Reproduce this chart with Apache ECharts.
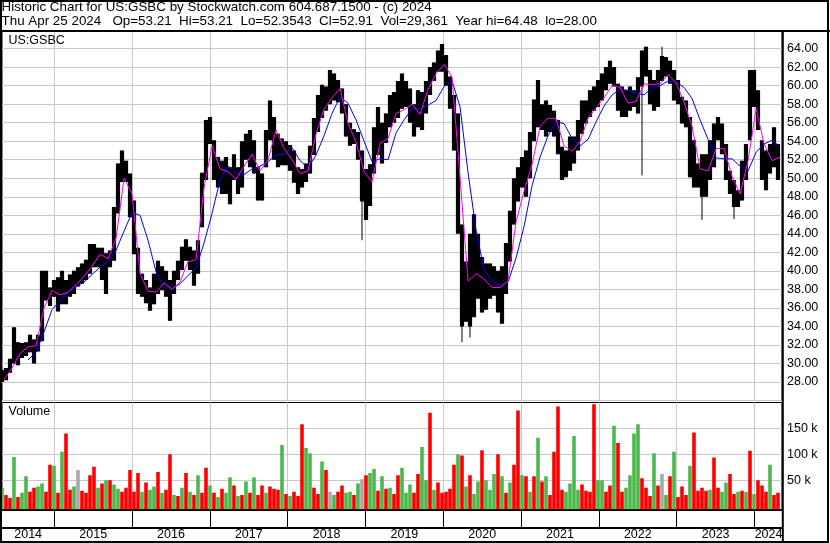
<!DOCTYPE html>
<html><head><meta charset="utf-8">
<script src="https://cdn.jsdelivr.net/npm/echarts@6/dist/echarts.min.js"></script>
<style>html,body{margin:0;padding:0;background:#fff}#c{width:830px;height:543px}</style>
</head><body><div id="c"></div><script>
// ---------- texts ----------
const titleLine1 = 'Historic Chart for US:GSBC by Stockwatch.com 604.687.1500 - (c) 2024';
const titleLine2 = 'Thu Apr 25 2024   Op=53.21  Hi=53.21  Lo=52.3543  Cl=52.91  Vol=29,361  Year hi=64.48  lo=28.00';
const symbolLabel = 'US:GSBC';
const volumeLabel = 'Volume';

// ---------- time sampling (decimal years) ----------
const axisStart = 2014.328, axisEnd = 2024.353;
const firstBin = 2014.328, binStep = 0.05141;   // one price/volume sample ~ every 19 days
const firstMA = 2014.354, maStep = 0.10283;     // moving averages sampled every ~38 days
const yearBounds = [2015, 2016, 2017, 2018, 2019, 2020, 2021, 2022, 2023, 2024];
const yearLabelAt = [2014.664, 2015.5, 2016.5, 2017.5, 2018.5, 2019.5, 2020.5, 2021.5, 2022.5, 2023.5, 2024.18];
const volumeTicks = [50, 100, 150];

// ---------- price ranges per sample ----------
const hi = [
29.3,29.5,30.5,33.9,32.3,32.2,32.3,33.1,32.6,33.1,
40.0,40.0,38.2,39.0,39.3,40.0,39.0,39.6,40.0,40.4,
40.8,41.2,42.9,42.9,42.5,42.5,41.9,42.2,46.9,51.6,
53.0,51.9,50.5,47.6,42.5,39.7,39.0,38.2,39.7,41.1,
40.5,40.0,39.0,40.0,41.1,42.6,43.4,42.6,42.2,43.3,
50.6,56.3,56.6,54.1,52.3,51.9,52.3,51.2,52.6,51.2,
54.0,54.8,55.2,54.1,51.2,50.5,55.2,58.4,56.6,54.8,
54.3,54.0,53.6,53.0,51.2,51.0,51.6,53.5,56.5,59.0,
60.1,59.9,61.7,61.3,60.6,59.7,58.0,56.0,55.3,55.0,
53.0,51.0,51.5,55.5,57.7,56.0,57.0,59.0,59.3,60.5,
61.3,60.5,59.7,58.0,59.5,59.3,60.5,62.0,62.5,63.8,
64.5,63.3,61.0,59.0,57.0,45.0,41.0,44.0,46.1,44.0,
41.5,40.8,40.8,40.5,40.0,40.5,43.0,46.5,50.0,51.2,
52.3,53.0,55.0,58.5,60.6,58.0,58.4,57.9,57.3,56.3,
53.4,53.0,54.5,54.5,56.3,58.4,58.4,59.5,59.9,60.6,
61.3,62.0,62.7,62.0,60.2,59.9,59.5,59.9,59.5,60.9,
63.8,64.2,61.7,60.6,61.7,63.2,63.1,62.7,61.7,60.6,
58.8,58.4,56.6,54.1,51.6,52.6,52.6,54.1,55.9,56.6,
55.9,53.7,50.8,49.8,48.7,51.9,53.7,61.7,61.7,59.5,
54.1,53.0,53.7,55.5,53.7];
const lo = [
28.0,28.2,29.0,30.0,29.8,30.6,30.8,31.2,30.0,31.3,
32.4,36.8,36.2,37.2,35.6,36.4,36.4,37.2,37.5,38.3,
38.6,39.0,39.7,40.4,40.4,39.0,37.5,40.4,41.1,46.2,
49.6,49.6,45.8,41.8,37.5,37.2,36.5,35.7,36.4,37.5,
37.9,37.2,34.6,37.5,39.0,40.1,41.1,40.1,38.4,39.7,
44.7,49.8,53.7,49.8,49.0,48.3,48.3,47.2,49.8,48.3,
49.0,52.0,51.2,50.5,47.6,47.6,51.2,54.1,52.0,51.2,
51.4,51.4,50.8,49.5,48.3,49.0,49.6,50.5,52.5,55.0,
56.5,57.3,58.0,58.4,58.2,57.0,54.5,53.5,53.7,52.0,
47.5,45.5,47.0,50.5,52.5,51.6,53.8,55.5,56.0,56.5,
57.5,57.7,56.0,54.5,55.5,55.2,57.0,59.0,60.5,61.5,
61.5,60.0,57.5,53.0,44.0,34.0,34.5,34.0,35.0,37.0,
35.5,35.8,37.0,37.3,35.5,34.3,37.5,41.0,45.0,47.5,
49.0,48.0,50.0,54.0,55.5,55.2,54.5,55.0,54.5,52.6,
49.8,50.1,50.8,51.6,53.0,54.8,55.9,56.6,57.3,57.7,
58.4,59.5,60.2,59.9,57.3,56.6,56.6,57.3,57.7,57.0,
59.9,61.0,58.0,57.3,57.7,60.5,61.0,60.2,58.4,58.0,
55.9,55.5,50.1,49.0,49.0,48.0,48.0,49.8,51.2,54.1,
52.6,49.8,48.3,46.9,46.9,47.6,49.8,54.1,57.7,55.2,
49.8,48.7,50.5,51.2,49.8];
// single-day extreme prints (sample index -> price)
const wickLo = {90: 43.3, 115: 32.3, 117: 32.8, 160: 50.3, 175: 45.5, 183: 45.6};
const wickHi = {165: 64.2};

// ---------- moving averages ----------
const maFast = [
28.3,29.5,31.1,31.8,31.9,36.0,37.9,37.4,37.7,38.5,
39.4,40.5,41.8,41.3,43.5,50.0,48.3,39.7,37.8,37.7,
38.7,38.0,38.8,41.0,41.2,49.0,53.5,51.0,50.7,49.9,
51.3,52.6,50.8,52.0,55.2,53.2,52.0,50.5,50.8,54.8,
57.5,58.7,59.7,55.9,53.9,50.7,49.6,53.8,54.3,57.0,
57.4,58.0,56.9,59.6,61.3,62.3,60.9,50.0,38.9,39.7,
39.1,38.2,38.2,38.9,45.3,48.6,51.5,55.6,56.5,56.4,
53.5,52.9,54.0,56.5,57.6,58.7,60.0,59.8,58.1,58.3,
60.2,60.1,60.2,61.2,60.3,58.2,55.6,51.0,50.8,53.2,
53.2,50.2,48.3,51.9,57.5,53.7,51.9,52.3];
const maSlow = [
null,null,null,30.4,31.2,33.4,35.8,36.8,37.7,38.3,
38.8,39.6,40.4,41.0,42.2,44.3,46.3,46.0,43.3,39.9,
38.2,38.1,38.6,39.5,40.3,43.0,46.2,49.8,51.3,50.6,
50.4,51.0,51.3,51.8,52.5,52.6,53.3,51.9,51.1,52.5,
54.6,57.0,58.8,58.1,56.3,54.0,51.8,52.1,52.0,54.9,
56.3,57.5,57.5,57.9,58.4,59.9,60.5,57.7,50.6,44.4,
40.1,38.9,38.5,38.8,41.4,44.8,49.2,52.3,54.6,56.1,
55.9,54.3,53.5,54.2,56.1,57.8,59.0,59.6,59.5,59.2,
59.0,59.8,60.0,60.5,60.4,59.8,58.6,56.3,54.2,52.2,
52.1,52.1,51.3,50.8,52.8,53.7,54.1,53.4];

// ---------- volume (thousands) and direction g=up r=down n=unchanged ----------
const volK = [
36,22,16,95,18,26,58,28,36,38,
44,28,80,78,26,105,140,32,38,70,
30,26,60,76,36,44,50,50,42,34,
28,36,70,28,64,28,46,32,38,66,
26,32,100,22,20,36,64,28,22,60,
26,74,40,26,18,34,26,56,40,20,
22,48,26,56,22,40,26,38,34,32,
118,24,20,28,20,158,112,102,36,24,
86,70,28,22,28,40,26,28,22,44,
52,60,64,72,30,58,34,36,24,60,
74,26,42,26,62,114,50,180,32,46,
26,28,34,80,100,98,38,60,24,48,
108,50,32,62,100,58,26,46,80,184,
60,58,28,58,132,48,58,22,105,192,
32,28,44,135,32,42,30,28,196,50,
50,28,40,155,122,28,36,60,140,158,
54,36,20,102,40,62,22,58,105,18,
38,22,78,142,30,36,30,32,94,36,
28,46,62,24,28,30,28,107,24,50,
40,28,80,22,26];
const volDir =
'grrgrggrrg'+'grrgrgrrgn'+'rrrrgrgrgg'+'rrrrrgrggr'+'grrgrgrgrg'+
'rrgrgrggrg'+'rgrgrrgrrr'+'grgrrrggrr'+'grngrrggrg'+'nrggrgrgrr'+
'gggrrggrgr'+'rrrrgrgrgg'+'rgggrgrgrr'+'grgrgrgrrr'+'rggggrrrrg'+
'grrgrrgggg'+'rrrgrngrgr'+'rrgrrrrgrr'+'ggrrgrgrgr'+'rrgrr';

// ---------- build ----------
const FONT = '"Liberation Sans", Arial, sans-serif';
const GRID_C = '#c8c8c8';
const dirCode = {g: 0, r: 1, n: 2};
const dirColor = ['#4cb84c', '#ff0000', '#a8a8a8'];

const priceData = hi.map((h, j) => [
  firstBin + j * binStep, lo[j], h,
  wickLo[j] !== undefined ? wickLo[j] : lo[j],
  wickHi[j] !== undefined ? wickHi[j] : h]);
const fastData = maFast.map((v, k) => [firstMA + k * maStep, v]);
const slowData = maSlow.map((v, k) => [firstMA + k * maStep, v]);
const volData = volK.map((v, j) => [firstBin + j * binStep, v, dirCode[volDir[j]]]);

const txt = {fontFamily: FONT, fontSize: 13, color: '#000', fontWeight: 'normal'};

const chart = echarts.init(document.getElementById('c'), null, {renderer: 'canvas'});
chart.setOption({
  animation: false,
  backgroundColor: '#fff',
  title: [
    {text: titleLine1, left: 1.5, top: 0, padding: 0, textStyle: Object.assign({}, txt, {fontSize: 13.4, lineHeight: 14})},
    {text: titleLine2, left: 1.5, top: 14.5, padding: 0, textStyle: Object.assign({}, txt, {fontSize: 13.4, lineHeight: 14})},
    {text: symbolLabel, left: 8.5, top: 33.5, padding: 0, textStyle: Object.assign({}, txt, {fontSize: 12.5, lineHeight: 14})},
    {text: volumeLabel, left: 8.5, top: 405, padding: 0, textStyle: Object.assign({}, txt, {fontSize: 12.5, lineHeight: 14})}
  ],
  grid: [
    {left: 2, width: 780, top: 31, height: 369.5, show: true, borderColor: '#000', borderWidth: 1, containLabel: false},
    {left: 2, width: 780, top: 402.5, height: 107, show: true, borderColor: '#000', borderWidth: 1, containLabel: false}
  ],
  xAxis: [
    {gridIndex: 0, type: 'value', min: axisStart, max: axisEnd,
     axisLine: {show: false}, axisTick: {show: false, customValues: yearBounds},
     axisLabel: {show: false}, splitLine: {show: true, lineStyle: {color: GRID_C, width: 1}}},
    {gridIndex: 1, type: 'value', min: axisStart, max: axisEnd,
     axisLine: {show: true, onZero: false, lineStyle: {color: '#000', width: 2}},
     axisTick: {show: true, customValues: yearBounds, length: 18, inside: false, lineStyle: {color: '#000', width: 1}},
     axisLabel: {show: true, customValues: yearLabelAt, margin: 19, formatter: v => String(Math.floor(v)),
                 fontFamily: FONT, fontSize: 12.5, color: '#000'},
     splitLine: {show: true, lineStyle: {color: GRID_C, width: 1}}},
    {gridIndex: 1, type: 'value', min: axisStart, max: axisEnd, offset: 18, position: 'bottom',
     axisLine: {show: true, onZero: false, lineStyle: {color: '#000', width: 2}},
     axisTick: {show: false}, axisLabel: {show: false}, splitLine: {show: false}}
  ],
  yAxis: [
    {gridIndex: 0, type: 'value', position: 'right', min: 26, max: 65.9, interval: 2,
     axisLine: {show: false}, axisTick: {show: false},
     axisLabel: {margin: 5, showMinLabel: false, showMaxLabel: false, formatter: v => v.toFixed(2),
                 fontFamily: FONT, fontSize: 12.5, color: '#000'},
     splitLine: {show: true, lineStyle: {color: GRID_C, width: 1}}},
    {gridIndex: 1, type: 'value', position: 'right', min: -6, max: 199.6,
     axisLine: {show: false}, axisTick: {show: false, customValues: volumeTicks},
     axisLabel: {margin: 5, customValues: volumeTicks, formatter: v => v + ' k',
                 fontFamily: FONT, fontSize: 12.5, color: '#000'},
     splitLine: {show: true, lineStyle: {color: GRID_C, width: 1}}}
  ],
  series: [
    {type: 'custom', name: 'price', xAxisIndex: 0, yAxisIndex: 0, data: priceData, clip: true,
     encode: {x: 0, y: [1, 2, 3, 4]}, z: 2,
     renderItem: (params, api) => {
       const t = api.value(0);
       const top = api.coord([t, api.value(2)]);
       const bot = api.coord([t, api.value(1)]);
       const wt = api.coord([t, api.value(4)]);
       const wb = api.coord([t, api.value(3)]);
       return {type: 'group', children: [
         {type: 'line', shape: {x1: wt[0], y1: wt[1], x2: wb[0], y2: wb[1]}, style: {stroke: '#000', lineWidth: 1}},
         {type: 'rect', shape: {x: top[0] - 2.1, y: top[1], width: 4.2, height: Math.max(1, bot[1] - top[1])}, style: {fill: '#000'}}
       ]};
     }},
    {type: 'line', name: 'slow', xAxisIndex: 0, yAxisIndex: 0, data: slowData, showSymbol: false, z: 4,
     lineStyle: {color: '#0000ff', width: 1}, itemStyle: {color: '#0000ff'}, connectNulls: false},
    {type: 'line', name: 'fast', xAxisIndex: 0, yAxisIndex: 0, data: fastData, showSymbol: false, z: 5,
     lineStyle: {color: '#ff00ff', width: 1}, itemStyle: {color: '#ff00ff'}},
    {type: 'custom', name: 'volume', xAxisIndex: 1, yAxisIndex: 1, data: volData, clip: true,
     encode: {x: 0, y: 1}, z: 2,
     renderItem: (params, api) => {
       const p = api.coord([api.value(0), api.value(1)]);
       const bottom = params.coordSys.y + params.coordSys.height;
       return {type: 'rect', shape: {x: p[0] - 1.8, y: p[1], width: 3.6, height: bottom - p[1]},
               style: {fill: dirColor[api.value(2)]}};
     }}
  ],
  graphic: [
    {type: 'rect', z: 100, silent: true, shape: {x: 1, y: 1, width: 827, height: 541}, style: {fill: null, stroke: '#000', lineWidth: 2}},
    {type: 'line', z: 100, silent: true, shape: {x1: 0, y1: 31, x2: 830, y2: 31}, style: {stroke: '#000', lineWidth: 2}},
    {type: 'line', z: 100, silent: true, shape: {x1: 782.8, y1: 31, x2: 782.8, y2: 543}, style: {stroke: '#000', lineWidth: 2}}
  ]
});
</script></body></html>
